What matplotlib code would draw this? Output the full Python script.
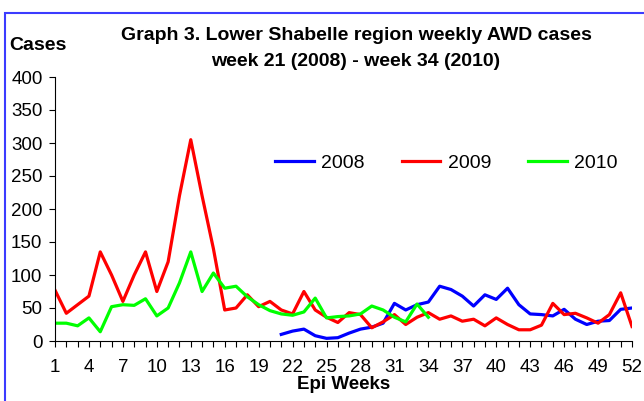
import matplotlib
matplotlib.use("Agg")
import matplotlib.pyplot as plt
from matplotlib.patches import Rectangle

plt.rcParams['font.family'] = ['Liberation Sans', 'DejaVu Sans']

# epi weeks on x axis
weeks = list(range(1, 53))
tick_weeks = list(range(1, 53, 3))

# 2008 data starts at week 21
weeks_2008 = list(range(21, 53))
cases_2008 = [10, 15, 18, 8, 4, 5, 12, 18, 21, 27, 57, 47, 55, 59, 83, 78,
              68, 53, 70, 63, 80, 55, 41, 40, 38, 48, 33, 25, 30, 31, 48, 50]

cases_2009 = [77, 42, 55, 68, 135, 100, 60, 100, 135, 75, 120, 220, 305, 220, 140, 47,
              50, 70, 52, 60, 47, 41, 75, 47, 36, 28, 43, 40, 20, 29, 40, 25,
              36, 43, 33, 38, 30, 33, 23, 35, 25, 17, 17, 24, 57, 40, 42, 35,
              27, 40, 73, 22]

# 2010 data stops at week 34
weeks_2010 = list(range(1, 35))
cases_2010 = [27, 27, 23, 35, 14, 52, 55, 54, 64, 38, 50, 88, 135, 75, 103, 80,
              83, 67, 55, 46, 41, 39, 44, 65, 35, 37, 38, 41, 53, 47, 36, 29,
              56, 36]

fig = plt.figure(figsize=(6.44, 4.01), dpi=100)
ax = fig.add_axes([55/644, 1 - 341/401, (632 - 55)/644, (341 - 77)/401])

ax.plot(weeks_2008, cases_2008, color='#0000ff', lw=2.3, label='2008', solid_joinstyle='round')
ax.plot(weeks, cases_2009, color='#ff0000', lw=2.3, label='2009', solid_joinstyle='round')
ax.plot(weeks_2010, cases_2010, color='#00ff00', lw=2.3, label='2010', solid_joinstyle='round')

ax.set_xlim(1, 52)
ax.set_ylim(0, 400)
ax.set_yticks(range(0, 401, 50))
ax.set_xticks(tick_weeks)
ax.set_xticks(weeks, minor=True)
ax.tick_params(axis='both', labelsize=13.5, direction='out', length=4, width=0.8, pad=5)
ax.tick_params(axis='x', which='minor', length=4, width=0.8)
ax.tick_params(axis='x', pad=9)
for s in ['top', 'right']:
    ax.spines[s].set_visible(False)

ax.set_xlabel('Epi Weeks', fontsize=13.5, fontweight='bold', labelpad=0)

fig.text(9/644, 1 - 45/401, 'Cases', fontsize=14, fontweight='bold', va='center', ha='left')
fig.text(356/644, 1 - 35/401, 'Graph 3. Lower Shabelle region weekly AWD cases',
         fontsize=14, fontweight='bold', ha='center', va='center')
fig.text(356/644, 1 - 61/401, 'week 21 (2008) - week 34 (2010)',
         fontsize=14, fontweight='bold', ha='center', va='center')

fig.legend(loc='center left', bbox_to_anchor=(275/644, 1 - 163/401), ncol=3, frameon=False,
           borderpad=0, borderaxespad=0, fontsize=14, handlelength=2.0,
           handletextpad=0.37, columnspacing=1.9)

# blue frame around chart area
fig.patches.append(Rectangle((5/644, -0.1), 1.2, 1 - 13/401 + 0.1, transform=fig.transFigure,
                             fill=False, edgecolor='#3c3cff', lw=1.5))

fig.savefig('out.png', dpi=100)
